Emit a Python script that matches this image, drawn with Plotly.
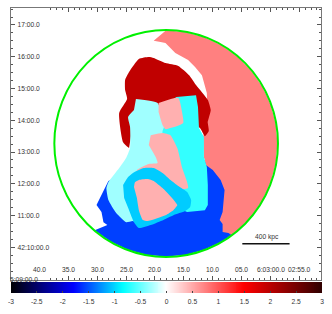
import numpy as np
import plotly.graph_objects as go

# Sky coordinates: RA seconds past 6:03:00 (x), Dec arcmin past +42:00 (y)
blue_x = [28.07,30.12,29.26,28.92,28.24,30.44,27.70,24.66,21.42,18.07,14.73,11.49,8.44,6.77,6.25,7.11,11.37,13.92,24.15]
blue_y = [12.085,11.33,11.11,10.79,10.70,10.54,10.18,9.92,9.76,9.71,9.76,9.92,10.18,10.385,11.49,12.59,12.75,12.43,12.43]

salmon_x = [20.23,18.07,14.73,11.49,8.44,5.69,3.31,1.38,-0.04,-0.90,-1.19,-0.90,-0.04,1.38,3.31,5.69,6.77,7.28,8.30,8.30,8.81,8.30,7.96,8.64,10.0,11.20,11.54,11.71,10.86,11.03,11.88,13.07,14.27,16.48,18.19,19.04]
salmon_y = [16.50,16.83,16.77,16.61,16.35,16.00,15.55,15.05,14.48,13.88,13.27,12.65,12.05,11.49,10.98,10.54,10.385,10.45,10.48,10.73,10.86,11.11,11.80,12.12,12.43,12.59,12.84,13.47,13.94,14.86,15.42,15.68,15.90,16.12,16.43,16.46]

darkred_x = [24.49,25.52,26.20,24.83,25.17,25.17,24.49,22.79,21.08,20.23,18.19,15.97,14.09,12.90,10.86,10.35,10.86,10.69,11.37,12.22,14.78,20.74,23.98]
darkred_y = [13.125,13.31,14.23,14.67,14.95,15.27,15.52,15.93,15.99,15.96,15.80,15.71,15.42,15.11,14.64,14.32,13.94,13.66,13.50,13.755,14.01,14.32,13.69]

lightcyan_x = [23.30,19.55,18.19,16.99,17.33,22.45,23.81,25.0,26.71,28.07,28.41,28.07,26.20,25.0,24.32,24.32,24.66,23.64]
lightcyan_y = [14.67,14.54,13.69,12.75,11.33,10.67,10.83,10.79,11.08,11.49,11.865,12.05,12.495,12.81,13.125,13.79,14.10,14.32]

cyan_x = [16.99,16.31,12.90,12.56,12.39,11.54,11.54,11.03,10.86,10.86,11.37,14.44,17.33,19.04,18.70,17.33]
cyan_y = [14.64,14.73,14.79,14.42,13.755,13.47,12.84,12.53,11.96,11.33,11.17,11.11,11.33,12.43,13.66,14.32]

pink_top_x = [19.38,15.97,15.29,15.12,18.19,18.70,19.38]
pink_top_y = [14.54,14.70,14.23,13.91,13.72,13.85,14.26]

pink_mid_x = [20.74,18.70,17.33,16.14,15.29,14.44,14.27,17.33,21.59,23.13,23.13,21.08,19.55,19.89,21.08]
pink_mid_y = [13.53,13.60,13.53,13.125,12.495,12.05,11.865,11.80,12.12,12.27,12.43,12.62,12.65,12.84,13.22]

ring_x = [25.52,24.66,23.81,21.94,20.23,18.70,17.33,15.97,14.44,13.75,13.92,14.78,16.82,18.53,20.74,22.79,23.64,24.49,25.34]
ring_y = [11.96,12.21,12.34,12.495,12.495,12.34,12.12,11.93,11.74,11.49,11.27,11.14,11.01,10.86,10.70,10.605,10.79,11.17,11.55]

pink_core_x = [23.64,23.47,22.79,21.25,20.23,18.70,17.33,16.14,16.82,18.19,21.25,22.11,22.79,23.13]
pink_core_y = [11.90,12.05,12.12,12.15,12.09,11.865,11.61,11.33,11.17,11.01,10.83,10.86,11.17,11.55]

region_colors = ["#0040ff","#ff8080","#c00000","#a0ffff","#33ffff","#ffb0b0","#ffb0b0","#00ccff","#ffb0b0"]
region_smooth = ["linear","linear","spline","spline","linear","spline","spline","spline","spline"]

ra_ticks = [40,35,30,25,20,15,10,5,0,-5]
ra_labels = ["40.0","35.0","30.0","25.0","20.0","15.0","10.0","05.0","6:03:00.0","02:55.0"]
dec_ticks = [17,16,15,14,13,12,11,10]
dec_labels = ["17:00.0","16:00.0","15:00.0","14:00.0","13:00.0","12:00.0","11:00.0","42:10:00.0"]
cbar_ticks = [-3,-2.5,-2,-1.5,-1,-0.5,0,0.5,1,1.5,2,2.5,3]
cbar_labels = ["-3","-2.5","-2","-1.5","-1","-0.5","0","0.5","1","1.5","2","2.5","3"]
cbar_scale = [[0,"#000000"],[0.2,"#0000ff"],[0.36,"#00ffff"],[0.5,"#ffffff"],[0.75,"#ff0000"],[1,"#300000"]]

aperture_x = [-1.28,37.42]
aperture_y = [9.695,16.845]
bar_x = [4.89,-3.29]
bar_y = [10.11,10.11]

W, H = 332, 314
fig = go.Figure()
regions = [(blue_x,blue_y),(salmon_x,salmon_y),(darkred_x,darkred_y),(lightcyan_x,lightcyan_y),
           (cyan_x,cyan_y),(pink_top_x,pink_top_y),(pink_mid_x,pink_mid_y),(ring_x,ring_y),(pink_core_x,pink_core_y)]
for (x,y),c,s in zip(regions,region_colors,region_smooth):
    fig.add_trace(go.Scatter(x=x,y=y,mode="lines",fill="toself",fillcolor=c,line=dict(width=0,color=c,shape=s,smoothing=0.5),
                             hoverinfo="skip",showlegend=False,xaxis="x",yaxis="y"))
fig.add_trace(go.Scatter(x=bar_x,y=bar_y,mode="lines",line=dict(color="#111111",width=1.5),
                         hoverinfo="skip",showlegend=False,xaxis="x",yaxis="y"))
ramp = np.linspace(-3,3,316)
fig.add_trace(go.Heatmap(x=ramp,y=[0,1],z=[ramp,ramp],colorscale=cbar_scale,zmin=-3,zmax=3,showscale=False,
                         hoverinfo="skip",xaxis="x2",yaxis="y2"))

fig.add_shape(type="circle",x0=aperture_x[0],x1=aperture_x[1],y0=aperture_y[0],y1=aperture_y[1],
              xref="x",yref="y",line=dict(color="#00f000",width=2),layer="above")

tickfont = dict(family="Liberation Sans",size=6.7,color="#333333")
frame = dict(showgrid=False,zeroline=False,showline=True,linecolor="#777777",linewidth=1,mirror="allticks",
             ticks="inside",ticklen=4,tickcolor="#555555",tickfont=tickfont,tickangle=0)
annotations = [dict(x=t,y=9.29,xref="x",yref="y",text=s,showarrow=False,font=tickfont) for t,s in zip(ra_ticks,ra_labels)]
annotations += [
    dict(x=0.6,y=10.32,xref="x",yref="y",text="400 kpc",showarrow=False,font=tickfont),
    dict(x=8/W,y=9.0,xref="paper",yref="y",xanchor="left",xshift=-3,text="5:09:00.0",showarrow=False,font=tickfont),
]
fig.update_layout(
    width=W,height=H,margin=dict(l=0,r=0,t=0,b=0),paper_bgcolor="white",plot_bgcolor="white",
    xaxis=dict(domain=[8/W,323/W],range=[44.94,-8.75],tickmode="array",tickvals=ra_ticks,showticklabels=False,
               anchor="y",minor=dict(dtick=1,ticks="inside",ticklen=2,tickcolor="#555555"),**frame),
    yaxis=dict(domain=[1-280/H,1-7.5/H],range=[8.97,17.55],tickmode="array",tickvals=dec_ticks,ticktext=dec_labels,
               ticklabelposition="inside",ticklabelstandoff=1,
               anchor="x",minor=dict(dtick=0.25,ticks="inside",ticklen=2,tickcolor="#555555"),**frame),
    xaxis2=dict(domain=[8/W,324/W],range=[-3,3],tickmode="array",tickvals=cbar_ticks,ticktext=cbar_labels,
                anchor="y2",ticks="inside",ticklen=2,tickcolor="#444444",showgrid=False,zeroline=False,
                ticklabelstandoff=3,tickfont=tickfont,tickangle=0),
    yaxis2=dict(domain=[1-293/H,1-282/H],range=[0,1],showticklabels=False,ticks="",showgrid=False,zeroline=False,anchor="x2"),
    annotations=annotations,
)
fig.write_html("out.html",config=dict(displayModeBar=False),
               post_script="document.body.style.margin='0';document.documentElement.style.overflow='hidden';")
